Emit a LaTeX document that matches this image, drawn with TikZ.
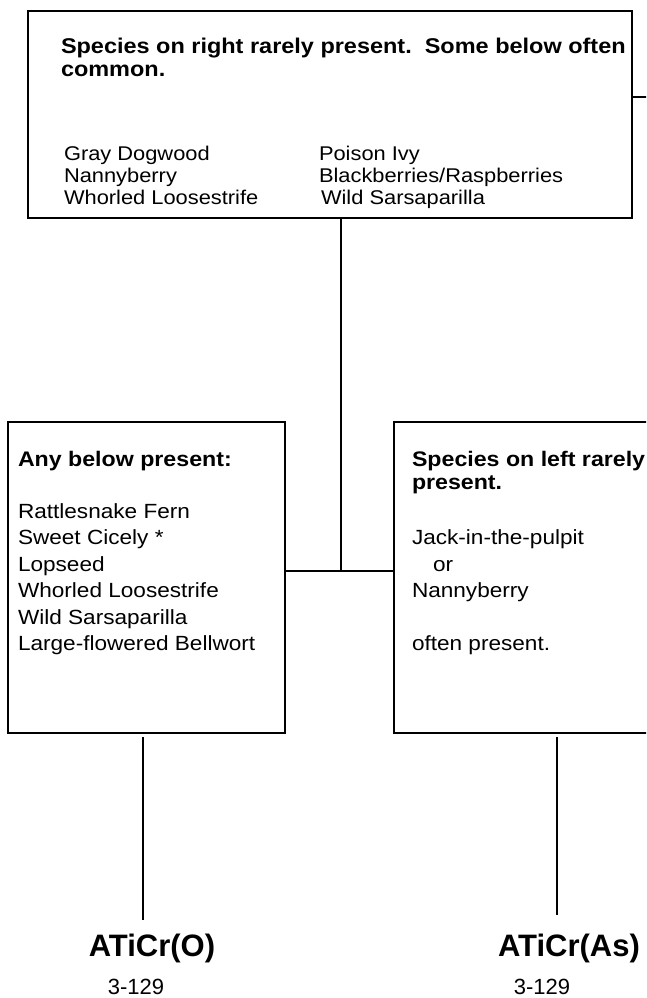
\documentclass[tikz,border=0pt]{standalone}
\usepackage{fontspec}
\setmainfont{Liberation Sans}[FakeStretch=1.1]
\newfontfamily\labelfont{Liberation Sans}
\usetikzlibrary{fit}

\tikzset{
  frame/.style={draw, line width=1.4pt, inner sep=0pt},
  wire/.style={line width=1.4pt},
  line/.style={anchor=base west, inner sep=0pt, outer sep=0pt},
  headtop/.style={line, font=\bfseries\fontsize{16pt}{19pt}\selectfont},
  listtop/.style={line, font=\fontsize{14.9pt}{17pt}\selectfont},
  headlow/.style={line, font=\bfseries\fontsize{15.8pt}{19pt}\selectfont},
  listlow/.style={line, font=\fontsize{15.4pt}{19pt}\selectfont},
  unit/.style={anchor=base, inner sep=0pt, font=\labelfont\bfseries\fontsize{23.25pt}{26pt}\selectfont},
  page/.style={anchor=base, inner sep=0pt, font=\labelfont\fontsize{16.5pt}{19pt}\selectfont}
}

\begin{document}
\begin{tikzpicture}[x=0.75pt, y=-0.75pt]
\clip (0,0) rectangle (646,998);
\fill[white] (0,0) rectangle (646,998);

% boxes
\node[frame, fit={(28,11) (632,218)}] (top) {};
\node[frame, fit={(8,422) (285,733)}] (left) {};
\node[frame, fit={(394,422) (670,733)}] (right) {};

% top box text
\node[headtop] (th1) at (61,54) {Species on right rarely present.\ \ Some below often};
\node[headtop] (th2) at (61,77) {common.};
\foreach \t [count=\i from 0] in {Gray Dogwood, Nannyberry, Whorled Loosestrife}
  \node[listtop] (ta\i) at (64,161+22*\i) {\t};
\foreach \t [count=\i from 0] in {Poison Ivy, Blackberries/Raspberries}
  \node[listtop] (tb\i) at (319,161+22*\i) {\t};
\node[listtop] (tb2) at (321,205) {Wild Sarsaparilla};

% left box text
\node[headlow] (lh) at (18,466) {Any below present:};
\foreach \t [count=\i from 0] in {Rattlesnake Fern, Sweet Cicely *, Lopseed,
    Whorled Loosestrife, Wild Sarsaparilla, Large-flowered Bellwort}
  \node[listlow] (l\i) at (18,518+26.5*\i) {\t};

% right box text
\node[headlow] (rh1) at (412,466) {Species on left rarely};
\node[headlow] (rh2) at (412,489) {present.};
\node[listlow] (r0) at (412,544.5) {Jack-in-the-pulpit};
\node[listlow] (r1) at (433,571) {or};
\node[listlow] (r2) at (412,597.5) {Nannyberry};
\node[listlow] (r3) at (412,650.5) {often present.};

% connectors
\coordinate (j) at (341,571);
\coordinate (stub) at (650,97);
\draw[wire] (top.south -| j) -- (j);
\draw[wire] (left.east |- j) -- (right.west |- j);
\draw[wire] (top.east |- stub) -- (stub);

% outcomes
\coordinate (la) at (143,737);
\coordinate (lb) at (143,920);
\coordinate (ra) at (557,737);
\coordinate (rb) at (557,915);
\draw[wire] (la) -- (lb);
\draw[wire] (ra) -- (rb);

\node[unit] (uo) at (152,956) {ATiCr(O)};
\node[page] (po) at (136,994) {3-129};
\node[unit] (ua) at (569,956) {ATiCr(As)};
\node[page] (pa) at (542,994) {3-129};
\end{tikzpicture}
\end{document}
